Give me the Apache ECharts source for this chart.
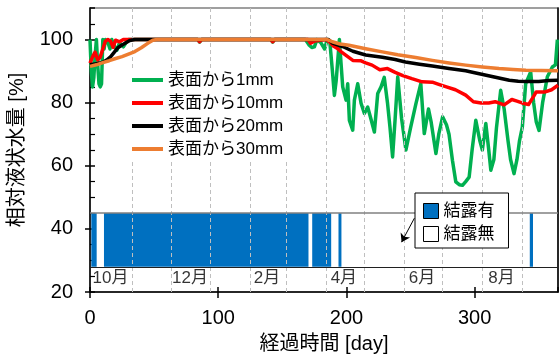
<!DOCTYPE html>
<html><head><meta charset="utf-8">
<script src="https://cdn.jsdelivr.net/npm/echarts@6/dist/echarts.min.js"></script>
<style>html,body{margin:0;padding:0;background:#fff}#c{width:560px;height:360px}</style>
</head><body><div id="c"></div>
<script>
// ---- data ----
const seriesNames = ['表面から1mm', '表面から10mm', '表面から20mm', '表面から30mm'];
const s1mm = [[0,100],[1,90],[2,85],[3,88],[4,95],[5,100],[6,92],[7,86],[8,85],[9,86],[10,100],[11,97],[12,100],[14,99],[15.6,97],[17,100],[19,98],[21,96.6],[23,99],[26,97.7],[28,99],[30,100],[84,100],[85.5,99.2],[87,100],[141,100],[142.5,99.2],[144,100],[168,100],[171,98.2],[173,97.5],[175,97.7],[177,100],[180,99],[183,97],[185,100],[187,99.5],[189,90.3],[190.6,82.3],[192,87],[194.5,100],[195.8,92.4],[197.1,85],[199.7,80.8],[201,86],[202.3,74.4],[204.9,71.3],[206.2,80.8],[208.8,86],[211.4,79.8],[214,76.6],[216.6,78.6],[219,75],[221.8,70.7],[224.4,82.9],[227,85],[229.5,88],[232,80],[234,72],[236,62.8],[238,75],[240,88.2],[243,75],[246.4,65],[250,72],[254.2,79.7],[258,86],[260.7,70.2],[264,78],[266,74],[269.8,63.9],[272,70],[275,75.5],[278,73],[280,70],[282.7,61.7],[285.3,54.9],[288,54],[290.5,53.8],[293,55],[295.7,56.4],[298,65],[300.9,74.4],[304,68],[306,65],[308.7,73.4],[311,65],[312.6,58.6],[315,62],[317,72],[320.3,83.9],[323,78],[326,68],[328,62],[330.7,57.5],[333,62],[335,68],[337.2,72.3],[339.8,86],[343.7,89.7],[346,80],[348,74],[350.2,71.2],[353,80],[356.7,88.2],[360.6,91.3],[363,92],[364.5,100]];
const s10mm = [[0,92.5],[2,94.5],[4,96],[6,93.5],[8,94.5],[10,97],[12,99.5],[14,100],[16,99.5],[18,97.5],[20,99.8],[23,99.3],[26,100],[84,100],[85.5,99.3],[87,100],[141,100],[142.5,99.3],[144,100],[170,100],[172,98.8],[175,99.5],[184,100],[187,99.2],[190,97.9],[193,97.2],[196,96.1],[201,94.6],[205,93.4],[211,93.3],[215,92.6],[220,91.9],[226,90.4],[232,90.8],[238,89.6],[244,88.6],[251,87.6],[259,86.6],[267,86.5],[272,85.8],[278,85],[285,84.1],[293,82.4],[299,80.3],[305,79.9],[311,79.9],[316,80.3],[323,79.3],[329,81],[333,80.5],[337,79.9],[342,79.4],[346,82],[348,83.4],[355,83.4],[360,84.1],[365,85.5]];
const s20mm = [[0,92],[5,92.3],[10,92.8],[13,93.5],[16,94.5],[19,96],[22,97.5],[25,98.3],[28,99],[31,99.7],[35,100],[186,100],[189,98.9],[197,97.8],[205,96.3],[215,95.1],[228,94.4],[238,93.7],[246,92.9],[257,92.2],[267,91.6],[280,90.8],[293,90.1],[300,89.5],[309,88.7],[318,87.9],[327,87.1],[334,86.8],[340,86.7],[350,86.7],[358,87],[365,87.1]];
const s30mm = [[0,91.5],[5,92],[10,92.7],[15,93.3],[20,94],[25,94.6],[30,95.4],[35,96.2],[40,97.4],[45,98.8],[49,99.8],[52,100],[185,100],[189,99.3],[195,98.6],[202,98.2],[215,97.1],[228,96.1],[240,95.2],[254,94.3],[267,93.4],[280,92.6],[293,91.9],[306,91.3],[319,90.8],[330,90.5],[340,90.3],[352,90.2],[365,90.1]];
// condensation periods [startDay, endDay]
const condensation = [[1,5.2],[10.9,170.4],[173.3,188.1],[193.8,196.1],[343,345.5]];
const condTop = 45, condBottom = 28;
const condNames = ['結露有', '結露無'];
// month boundaries (days) and month labels
const monthBoundaries = [33, 63, 94, 125, 153, 184, 214, 245, 275, 306, 337];
const monthLabels = ['10月', '12月', '2月', '4月', '6月', '8月'];
const monthLabelDays = [16, 78, 138, 198, 259, 321];
const monthLabelY = 24.3;

const FONT = "'Liberation Sans', 'Noto Sans CJK JP', sans-serif";
const colors = ['#00B050', '#FF0000', '#000000', '#ED7D31'];
const lineData = [s1mm, s10mm, s20mm, s30mm];

const chart = echarts.init(document.getElementById('c'), null, {renderer: 'canvas'});
const yBase = {type: 'value', min: 20, max: 110, interval: 20, position: 'left', splitLine: {show: false}};
const xBase = {type: 'value', min: 0, max: 365, interval: 100, position: 'bottom', splitLine: {show: false}};
const option = {
  animation: false,
  textStyle: {fontFamily: FONT},
  grid: {left: 90, right: 2, top: 8, bottom: 68, show: true, borderColor: '#808080', borderWidth: 1.5,
    containLabel: false, outerBoundsMode: 'none'},
  xAxis: [
    Object.assign({}, xBase, {
      name: '経過時間 [day]', nameLocation: 'middle', nameGap: 42,
      nameTextStyle: {fontSize: 20, color: '#000', fontFamily: FONT},
      axisLine: {show: true, lineStyle: {color: '#000', width: 1.5}},
      axisTick: {show: true, inside: false, length: 6, lineStyle: {color: '#000', width: 1.5}},
      axisLabel: {fontSize: 20, color: '#000', margin: 16, showMaxLabel: false, fontFamily: FONT,
        formatter: v => (v % 100 === 0 ? String(v) : '')}
    }),
    Object.assign({}, xBase, {
      axisLine: {show: false}, axisLabel: {show: false},
      axisTick: {show: true, inside: true, length: 5, lineStyle: {color: '#000', width: 1.5}}
    })
  ],
  yAxis: [
    Object.assign({}, yBase, {
      name: '相対液状水量 [%]', nameLocation: 'middle', nameGap: 63,
      nameTextStyle: {fontSize: 20, color: '#000', fontFamily: FONT},
      axisLine: {show: true, lineStyle: {color: '#000', width: 1.5}},
      axisTick: {show: true, inside: false, length: 5, lineStyle: {color: '#000', width: 1.5}},
      axisLabel: {fontSize: 20, color: '#000', margin: 17, showMaxLabel: false, fontFamily: FONT,
        formatter: v => (v % 20 === 0 ? String(v) : '')}
    }),
    Object.assign({}, yBase, {
      axisLine: {show: false}, axisLabel: {show: false},
      axisTick: {show: true, inside: true, length: 5, lineStyle: {color: '#000', width: 1.5}},
      minorTick: {show: true, splitNumber: 4, length: 5, lineStyle: {color: '#000', width: 1.2}}
    }),
    Object.assign({}, yBase, {
      position: 'right', axisLine: {show: true, lineStyle: {color: '#000', width: 1.5}},
      axisLabel: {show: false}, axisTick: {show: false}
    })
  ],
  legend: [
    {
      data: seriesNames, orient: 'vertical', left: 129, top: 68,
      icon: 'rect', itemWidth: 31, itemHeight: 4, itemGap: 5,
      padding: [3, 4, 3, 3], backgroundColor: '#fff',
      textStyle: {fontSize: 17, color: '#000', lineHeight: 18, fontFamily: FONT},
      selectedMode: false, z: 10
    },
    {
      data: [
        {name: condNames[0], itemStyle: {color: '#0070C0', borderColor: '#000', borderWidth: 1}},
        {name: condNames[1], itemStyle: {color: '#fff', borderColor: '#000', borderWidth: 1}}
      ],
      orient: 'vertical', left: 415, top: 193, icon: 'rect', itemWidth: 15, itemHeight: 15, itemGap: 3,
      padding: [8, 14, 4, 8], borderColor: '#000', borderWidth: 1, backgroundColor: '#fff',
      textStyle: {fontSize: 17, color: '#000', lineHeight: 20, fontFamily: FONT},
      selectedMode: false, z: 10
    }
  ],
  series: [
    {
      name: condNames[0], type: 'custom', xAxisIndex: 0, yAxisIndex: 0, z: 1,
      itemStyle: {color: '#0070C0'},
      encode: {x: [0, 1]},
      data: condensation,
      renderItem: (params, api) => {
        const p1 = api.coord([api.value(0), condTop]);
        const p2 = api.coord([api.value(1), condBottom]);
        return {type: 'rect', shape: {x: p1[0], y: p1[1], width: p2[0] - p1[0], height: p2[1] - p1[1]},
          style: {fill: '#0070C0'}};
      }
    },
    {name: condNames[1], type: 'custom', data: [], renderItem: () => null, itemStyle: {color: '#fff'}},
    {
      name: 'months', type: 'scatter', z: 2, symbolSize: 0, silent: true,
      data: monthLabelDays.map((d, i) => ({value: [d, monthLabelY], name: monthLabels[i]})),
      label: {show: true, position: 'inside', formatter: p => p.name, fontSize: 17, color: '#000', fontFamily: FONT},
      markLine: {
        silent: true, symbol: 'none', label: {show: false},
        data: monthBoundaries.map(d => ({xAxis: d, lineStyle: {color: '#BFBFBF', type: [4, 3], width: 1}}))
          .concat([
            {yAxis: condTop, lineStyle: {color: '#808080', type: 'solid', width: 1.5}},
            {yAxis: condBottom, lineStyle: {color: '#202020', type: 'solid', width: 1.2}}
          ])
      }
    },
    {
      name: 'arrow', type: 'line', data: [], z: 9, silent: true,
      markLine: {
        silent: true, symbol: ['none', 'arrow'], symbolSize: 8, label: {show: false},
        lineStyle: {color: '#000', width: 1, type: 'solid'},
        data: [[{coord: [253, 43.4]}, {coord: [243, 35.8]}]]
      }
    }
  ].concat(lineData.map((d, i) => ({
    name: seriesNames[i], type: 'line', data: d, showSymbol: false, z: 3 + i,
    color: colors[i],
    lineStyle: {color: colors[i], width: 3.5, join: 'round'}
  })))
};
chart.setOption(option);
</script></body></html>
